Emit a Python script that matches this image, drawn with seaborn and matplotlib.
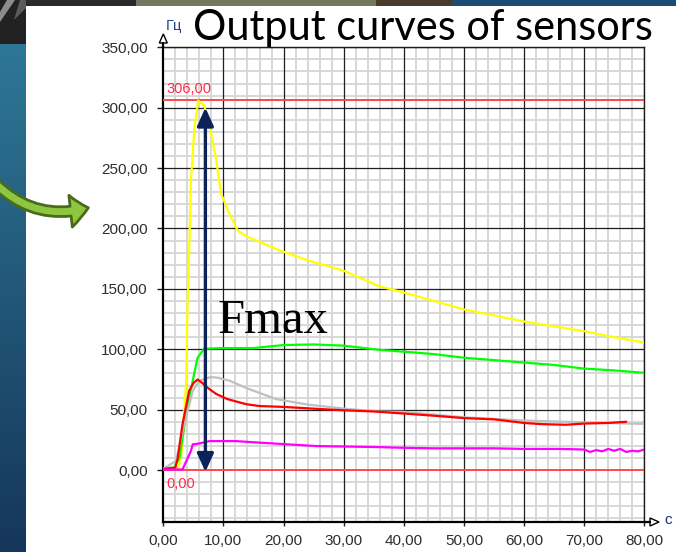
import numpy as np
import matplotlib
matplotlib.use("Agg")
import matplotlib.pyplot as plt
import matplotlib.colors as mcolors
import seaborn as sns
from matplotlib.patches import Polygon, Rectangle, FancyArrowPatch
from matplotlib.lines import Line2D
from matplotlib.ticker import FixedLocator, FuncFormatter

# Sensor output frequency (Hz) against time (s)
yellow_t = [0, 1.5, 2.5, 3.0, 3.5, 3.8, 4.05, 4.3, 4.6, 5.2, 5.8, 6.8, 7.9, 8.8, 9.6, 11.0,
            12.4, 14.0, 16.0, 19.3, 23.8, 30, 36, 40, 45, 50, 55, 60, 65, 70, 75, 80]
yellow_v = [1.5, 1.5, 2, 12, 50, 74, 140, 180, 240, 284, 306, 302, 280, 257, 229, 212,
            198, 193, 189, 182, 174, 165, 152, 147, 140, 133, 128, 123, 119, 115, 110, 105.5]

green_t = [0, 1.8, 2.7, 3.8, 4.9, 5.7, 6.8, 10, 15, 20, 25, 30, 36, 40, 45, 50, 55, 60, 65, 70, 75, 80]
green_v = [1.5, 2, 10, 46.5, 74, 93, 100.5, 101, 101, 103.5, 104, 103, 99.5, 98, 96, 93, 91, 89, 87, 84, 82.5, 80.5]

red_t = [0, 2.0, 2.4, 3.2, 4.3, 5.0, 5.7, 6.5, 7.4, 8.8, 10.7, 13.8, 16, 19.9, 26.5, 30, 35,
         40, 45, 50, 55, 60, 63, 67, 70, 74, 77]
red_v = [1, 2, 10, 38, 65.6, 72, 75, 72, 68, 63, 58.7, 54.5, 53, 52.3, 50.4, 49.5, 48.5,
         46.8, 45, 43, 42, 39, 38, 37.5, 38.5, 39, 40]

gray_t = [0, 2.1, 3.2, 4.9, 6.0, 7.9, 9.0, 11.0, 14.3, 18.8, 24.3, 31, 36, 40, 50, 60, 70, 80]
gray_v = [1, 7.5, 32, 65.6, 74, 77, 76.5, 74, 67, 58.7, 54, 50.4, 48.5, 48.2, 43.7, 41, 39.5, 38.2]

magenta_t = [0, 3.2, 3.6, 4.6, 4.9, 6.0, 7.7, 12, 16, 20, 25.4, 30, 36, 39.3, 45, 55, 60, 66,
             70, 71, 72, 73, 74, 75, 76, 77, 78, 79, 80]
magenta_v = [0.5, 0.5, 5, 15.8, 21.3, 22, 24, 24, 22.7, 21.5, 19.9, 19.5, 19, 18.5, 18, 18, 17.5, 17.5,
             17, 15, 16.5, 15.5, 17.5, 16, 17.5, 15, 16, 15.5, 17]

x_ticks = [0, 10, 20, 30, 40, 50, 60, 70, 80]
y_ticks = [0, 50, 100, 150, 200, 250, 300, 350]
f_max = 306.0
f_zero = 0.0

sns.set_style("white")
plt.rcParams['font.family'] = ['Liberation Sans', 'DejaVu Sans']

W, H = 676, 552
fig = plt.figure(figsize=(W / 100, H / 100), dpi=100, facecolor='white')


def pixel_axes(z):
    a = fig.add_axes([0, 0, 1, 1], zorder=z)
    a.set_xlim(0, W)
    a.set_ylim(H, 0)
    a.axis('off')
    a.patch.set_alpha(0)
    return a


# ---- slide background -------------------------------------------------------
bg = pixel_axes(0)
g = np.linspace(0, 1, 256)[:, None, None]
c_top = np.array(mcolors.to_rgb('#2e7796'))
c_bot = np.array(mcolors.to_rgb('#15365a'))
bg.imshow(c_top * (1 - g) + c_bot * g, extent=[0, 26, H, 44], aspect='auto',
          interpolation='bilinear')
bg.add_patch(Rectangle((0, 0), 26, 44, color='#222222', lw=0))
bg.add_patch(Polygon([(7, 0), (15, 0), (0, 22), (0, 12)], closed=True, color='#8c8c8c', lw=0))
bg.add_patch(Polygon([(20, 0), (26, 0), (26, 8), (14, 20)], closed=True, color='#5a5a5a', lw=0))
bg.add_patch(Rectangle((26, 0), 110, 6, color='#2a2a2a', lw=0))
bg.add_patch(Rectangle((136, 0), 240, 6, color='#77765e', lw=0))
bg.add_patch(Rectangle((376, 0), 76, 6, color='#4a3a2c', lw=0))
bg.add_patch(Rectangle((452, 0), W - 452, 6, color='#1b4c74', lw=0))
bg.add_patch(FancyArrowPatch(posA=(-6, 182), posB=(91, 207),
                             connectionstyle='arc3,rad=0.3',
                             arrowstyle='simple,head_length=13,head_width=23,tail_width=7',
                             facecolor='#8dc63f', edgecolor='#4a6b1c', lw=2.0))
bg.set_xlim(0, W)
bg.set_ylim(H, 0)

# ---- chart -----------------------------------------------------------------
ax = fig.add_axes([163.3 / W, (H - 522) / H, (644.3 - 163.3) / W, (522 - 47.3) / H], zorder=2)
ax.set_facecolor('white')

for t, v, c in [(yellow_t, yellow_v, '#ffff00'),
                (green_t, green_v, '#00ff00'),
                (gray_t, gray_v, '#c0c0c0'),
                (red_t, red_v, '#ff0000'),
                (magenta_t, magenta_v, '#ff00ff')]:
    sns.lineplot(x=t, y=v, color=c, lw=1.6, ax=ax, zorder=4)

ax.axhline(f_max, color='#ff4646', lw=1.4, zorder=3)
ax.axhline(f_zero, color='#ff4646', lw=1.4, zorder=3)
fmt = lambda v, p=None: f"{v:.2f}".replace('.', ',')
ax.text(0.55, f_max + 6, fmt(f_max), color='#ff2a4a', fontsize=10.5, va='baseline', zorder=5)
ax.text(0.55, f_zero - 15, fmt(f_zero), color='#ff2a4a', fontsize=10.5, va='baseline', zorder=5)

ax.set_xlim(0, 80)
ax.set_ylim(-43, 350)
ax.set_xticks(x_ticks)
ax.set_yticks(y_ticks)
ax.xaxis.set_major_formatter(FuncFormatter(fmt))
ax.yaxis.set_major_formatter(FuncFormatter(fmt))
# fine grid between the major lines
ax.xaxis.set_minor_locator(FixedLocator([v for v in range(0, 81, 2) if v % 10]))
ax.yaxis.set_minor_locator(FixedLocator([v for v in range(-40, 351, 10) if v % 50]))
ax.set_xlabel('')
ax.set_ylabel('')
ax.set_axisbelow(True)
ax.grid(which='minor', color='#d6d6d6', lw=1.3)
# solid major grid on top of the fine one
for xv in x_ticks[1:]:
    ax.axvline(xv, color='#1e1e1e', lw=0.9, zorder=1)
for yv in y_ticks[1:]:
    ax.axhline(yv, color='#1e1e1e', lw=0.9, zorder=1)
ax.tick_params(which='minor', length=0)
ax.tick_params(axis='y', which='major', left=True, length=4.3, width=1, pad=7,
               labelsize=11, labelcolor='#2e2e2e', color='#1e1e1e')
ax.tick_params(axis='x', which='major', bottom=True, length=3, width=1, pad=5.5,
               labelsize=11, labelcolor='#2e2e2e', color='#1e1e1e')
for side in ('left', 'bottom'):
    ax.spines[side].set_linewidth(1.6)
    ax.spines[side].set_color('black')
for side in ('top', 'right'):
    ax.spines[side].set_linewidth(1.0)
    ax.spines[side].set_color('#1e1e1e')

# double-headed marker of the peak amplitude
ax.annotate('', xy=(7.0, 300), xytext=(7.0, -1.5),
            arrowprops=dict(arrowstyle='<|-|>,head_length=0.55,head_width=0.25',
                            color='#0b2358', lw=2.4, shrinkA=0, shrinkB=0,
                            mutation_scale=20), zorder=6)
ax.text(9.1, 113.4, 'Fmax', family=['Liberation Serif', 'DejaVu Serif'], fontsize=35,
        va='baseline', color='black', zorder=6)

# ---- axis arrows, units and heading -------------------------------------------
ov = pixel_axes(5)
ov.add_line(Line2D([163.3, 163.3], [48, 43], color='black', lw=1.6))
ov.add_patch(Polygon([(163.3, 34), (159.3, 43), (167.3, 43)], closed=True,
                     facecolor='white', edgecolor='black', lw=1.0))
ov.add_line(Line2D([644, 650], [522, 522], color='black', lw=1.6))
ov.add_patch(Polygon([(659, 522), (650, 518), (650, 526)], closed=True,
                     facecolor='white', edgecolor='black', lw=1.0))
ov.text(166, 26, 'Гц', fontsize=10.5, color='#23408f', va='center', ha='left')
ov.text(664, 520, 'c', fontsize=11, color='#1a2a6a', va='center', ha='left')

title = ov.text(193, 40, 'Output curves of sensors', family=['Lato', 'DejaVu Sans'],
                fontweight='normal', fontsize=26, va='baseline', ha='left', color='black')
fig.canvas.draw()
bb = title.get_window_extent()
title.set_fontsize(26 * 459 / bb.width)

fig.savefig('out.png', dpi=100, facecolor='white')
